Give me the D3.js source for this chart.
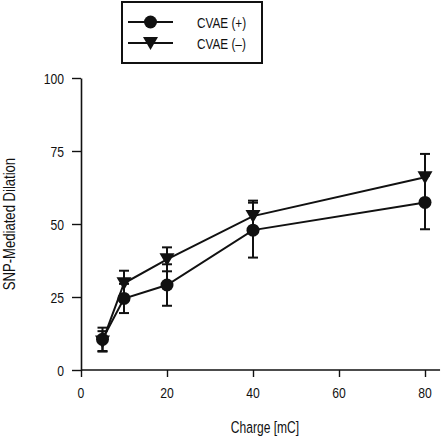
<!DOCTYPE html>
<html><head><meta charset="utf-8">
<script src="https://cdn.jsdelivr.net/npm/d3@7"></script>
<style>
html,body{margin:0;padding:0;background:#fff;}
svg text{font-family:"Liberation Sans",Arial,sans-serif;fill:#111;}
</style></head>
<body>
<svg id="c" width="447" height="437"></svg>
<script>
const charges = [5, 10, 20, 40, 80];
const cvaePos = [10.5, 24.5, 29.1, 47.9, 57.4];
const cvaePosErr = [4.0, 5.0, 7.1, 9.4, 9.2];
const cvaeNeg = [9.8, 29.7, 37.9, 52.7, 66.0];
const cvaeNegErr = [3.5, 4.3, 4.1, 5.3, 8.0];
const xTicks = [0, 20, 40, 60, 80];
const yTicks = [0, 25, 50, 75, 100];
const seriesNames = ["CVAE (+)", "CVAE (\u2013)"];

const svg = d3.select("#c");
const x = d3.scaleLinear().domain([0, 80]).range([81, 425]);
const y = d3.scaleLinear().domain([0, 100]).range([370, 78]);

function ntext(px, py, str, size, anchor, sx, rot) {
  return svg.append("text")
    .attr("transform", `translate(${px},${py})${rot ? " rotate(" + rot + ")" : ""} scale(${sx},1)`)
    .attr("text-anchor", anchor).style("font-size", size + "px").text(str);
}

// X axis
const gx = svg.append("g").attr("transform", `translate(0,${y(0)})`)
  .call(d3.axisBottom(x).tickValues(xTicks).tickSize(7).tickSizeOuter(0).tickFormat(""));
gx.select(".domain").remove();
gx.append("line").attr("x1", x(0)).attr("x2", x(83.5)).attr("y1", 0).attr("y2", 0)
  .attr("stroke", "#111").attr("stroke-width", 1.6);
gx.selectAll(".tick line").attr("stroke", "#111").attr("stroke-width", 1.4);
xTicks.forEach(t => ntext(x(t), 398, String(t), 14.5, "middle", 0.84));

// Y axis
const gy = svg.append("g").attr("transform", `translate(${x(0)},0)`)
  .call(d3.axisLeft(y).tickValues(yTicks).tickSize(9).tickSizeOuter(0).tickFormat(""));
gy.select(".domain").attr("stroke", "#111").attr("stroke-width", 1.6);
gy.selectAll(".tick line").attr("stroke", "#111").attr("stroke-width", 1.4);
yTicks.forEach(t => ntext(64, y(t) + 5.5, String(t), 14.5, "end", 0.84));

// Titles
ntext(265, 433, "Charge [mC]", 17, "middle", 0.71);
ntext(15, 224, "SNP-Mediated Dilation", 17, "middle", 0.77, -90);

const series = [
  {vals: cvaePos, err: cvaePosErr, shape: "circle"},
  {vals: cvaeNeg, err: cvaeNegErr, shape: "tri"}
];
const line = d3.line().x(d => x(d[0])).y(d => y(d[1]));

series.forEach(s => {
  svg.append("path").datum(charges.map((c, i) => [c, s.vals[i]]))
    .attr("d", line).attr("fill", "none").attr("stroke", "#111").attr("stroke-width", 2);
});
series.forEach(s => {
  charges.forEach((c, i) => {
    const g = svg.append("g").attr("stroke", "#111").attr("stroke-width", 2);
    const lo = y(s.vals[i] - s.err[i]), hi = y(s.vals[i] + s.err[i]);
    g.append("line").attr("x1", x(c)).attr("x2", x(c)).attr("y1", lo).attr("y2", hi);
    g.append("line").attr("x1", x(c) - 5).attr("x2", x(c) + 5).attr("y1", lo).attr("y2", lo);
    g.append("line").attr("x1", x(c) - 5).attr("x2", x(c) + 5).attr("y1", hi).attr("y2", hi);
  });
});
function marker(sel, shape, cx, cy) {
  if (shape === "circle") {
    sel.append("circle").attr("cx", cx).attr("cy", cy).attr("r", 6.5).attr("fill", "#111");
  } else {
    sel.append("path").attr("d", `M${cx - 7.5},${cy - 6}L${cx + 7.5},${cy - 6}L${cx},${cy + 7}Z`).attr("fill", "#111");
  }
}
series.forEach(s => {
  charges.forEach((c, i) => marker(svg, s.shape, x(c), y(s.vals[i])));
});

// Legend
svg.append("rect").attr("x", 122).attr("y", 2).attr("width", 140).attr("height", 61)
  .attr("fill", "none").attr("stroke", "#111").attr("stroke-width", 2);
const legY = [22, 43];
series.forEach((s, i) => {
  svg.append("line").attr("x1", 128).attr("x2", 173).attr("y1", legY[i]).attr("y2", legY[i])
    .attr("stroke", "#111").attr("stroke-width", 2);
  marker(svg, s.shape, 150.5, legY[i]);
  ntext(197, legY[i] + 5.5, seriesNames[i], 15.5, "start", 0.76);
});
</script>
</body></html>
